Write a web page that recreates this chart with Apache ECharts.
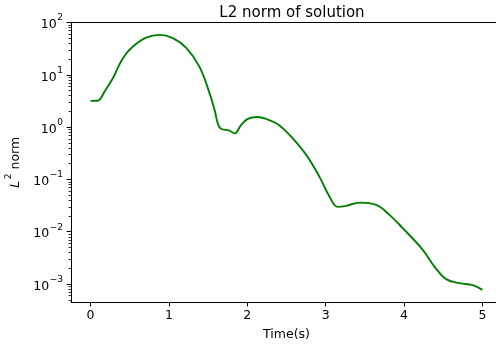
<!DOCTYPE html>
<html>
<head>
<meta charset="utf-8">
<script src="https://cdn.jsdelivr.net/npm/echarts@6/dist/echarts.min.js"></script>
<style>html,body{margin:0;padding:0;background:#fff}#c{width:496px;height:347px}</style>
</head>
<body>
<div id="c"></div>
<script>
// Data
const timeValues = [0, 0.09, 0.124, 0.179, 0.284, 0.412, 0.540, 0.710, 0.880, 1.050, 1.221, 1.390, 1.518, 1.582, 1.654, 1.773, 1.837, 1.922, 2.006, 2.124, 2.325, 2.411, 2.538, 2.751, 2.921, 3.048, 3.154, 3.261, 3.431, 3.644, 3.814, 3.983, 4.239, 4.388, 4.537, 4.707, 4.876, 5.0];
const normValues = [3.18, 3.2, 3.47, 4.80, 8.65, 20.9, 34.8, 51.7, 58.2, 50.3, 32.8, 14.2, 4.47, 2.14, 0.957, 0.861, 0.76, 1.107, 1.44, 1.57, 1.28, 1.08, 0.713, 0.295, 0.112, 0.0471, 0.0299, 0.0313, 0.0361, 0.0327, 0.0210, 0.01172, 0.00451, 0.00216, 0.00124, 0.00104, 0.000953, 0.000774];
const xTickValues = [0, 1, 2, 3, 4, 5];
const yMajorTicks = [1e-3, 1e-2, 1e-1, 1, 10, 100];
const yMinorTicks = [];
[1e-4, 1e-3, 1e-2, 1e-1, 1, 10].forEach(function (d) {
  for (let k = 2; k <= 9; k++) yMinorTicks.push(+(d * k).toPrecision(3));
});
const titleText = 'L2 norm of solution';
const xLabel = 'Time(s)';

const FONT = 'DejaVu Sans';
const seriesData = timeValues.map(function (t, i) { return [t, normValues[i]]; });

function expLabel(v) {
  const e = Math.round(Math.log10(v));
  const s = e < 0 ? '\u2212' + Math.abs(e) : String(e);
  return '{b|10}{s|' + s + '}';
}

const chart = echarts.init(document.getElementById('c'), null, { renderer: 'canvas' });
const gridDef = { left: 71, width: 431, top: 22.5, bottom: 45, containLabel: false, outerBoundsMode: 'none' };
const xMin = -0.25, xMax = 5.25, yMin = 4.53e-4, yMax = 100.5;

chart.setOption({
  animation: false,
  backgroundColor: '#ffffff',
  title: {
    text: titleText,
    left: 287,
    top: 1,
    textAlign: 'center',
    textStyle: { fontFamily: FONT, fontSize: 15, fontWeight: 'normal', color: '#000' }
  },
  grid: gridDef,
  xAxis: [{
    type: 'value', min: xMin, max: xMax, position: 'bottom',
    axisLine: { show: true, onZero: false, lineStyle: { color: '#000', width: 1 } },
    axisTick: { show: true, length: 4.4, inside: false, customValues: xTickValues, lineStyle: { color: '#000', width: 1 } },
    axisLabel: { show: true, customValues: xTickValues, margin: 7, fontFamily: FONT, fontSize: 12.5, color: '#000' },
    splitLine: { show: false },
    name: xLabel, nameLocation: 'middle', nameGap: 26,
    nameTextStyle: { fontFamily: FONT, fontSize: 12.5, color: '#000' }
  }, {
    type: 'value', min: xMin, max: xMax, position: 'top',
    axisLine: { show: true, onZero: false, lineStyle: { color: '#000', width: 1 } },
    axisTick: { show: false }, axisLabel: { show: false }, splitLine: { show: false }
  }],
  yAxis: [{
    type: 'log', logBase: 10, min: yMin, max: yMax, position: 'left',
    axisLine: { show: true, onZero: false, lineStyle: { color: '#000', width: 1 } },
    axisTick: { show: true, length: 4.4, customValues: yMajorTicks, lineStyle: { color: '#000', width: 1 } },
    axisLabel: {
      show: true, customValues: yMajorTicks, margin: 8,
      formatter: expLabel,
      rich: {
        b: { fontFamily: FONT, fontSize: 12.5, color: '#000', lineHeight: 18, verticalAlign: 'bottom' },
        s: { fontFamily: FONT, fontSize: 9, color: '#000', lineHeight: 18, verticalAlign: 'top', padding: [0, 0, 0, 0.5] }
      }
    },
    splitLine: { show: false },
    name: '{i|L}{s|2}{b| norm}', nameLocation: 'middle', nameGap: 47, nameRotate: 90,
    nameTextStyle: {
      rich: {
        i: { fontFamily: FONT, fontStyle: 'italic', fontSize: 12.5, color: '#000', lineHeight: 18, verticalAlign: 'bottom' },
        s: { fontFamily: FONT, fontSize: 9, color: '#000', lineHeight: 18, verticalAlign: 'top', padding: [0, 0, 0, 1.5] },
        b: { fontFamily: FONT, fontSize: 12.5, color: '#000', lineHeight: 18, verticalAlign: 'bottom' }
      }
    }
  }, {
    type: 'log', logBase: 10, min: yMin, max: yMax, position: 'left',
    axisLine: { show: false, onZero: false },
    axisTick: { show: true, length: 2.5, customValues: yMinorTicks, lineStyle: { color: '#000', width: 0.8 } },
    axisLabel: { show: false },
    splitLine: { show: false }
  }],
  series: [{
    type: 'line',
    xAxisIndex: 0, yAxisIndex: 0,
    data: seriesData,
    showSymbol: false,
    symbol: 'none',
    smooth: 0.4,
    lineStyle: { color: '#008000', width: 1.9 },
    clip: true
  }]
});
</script>
</body>
</html>
